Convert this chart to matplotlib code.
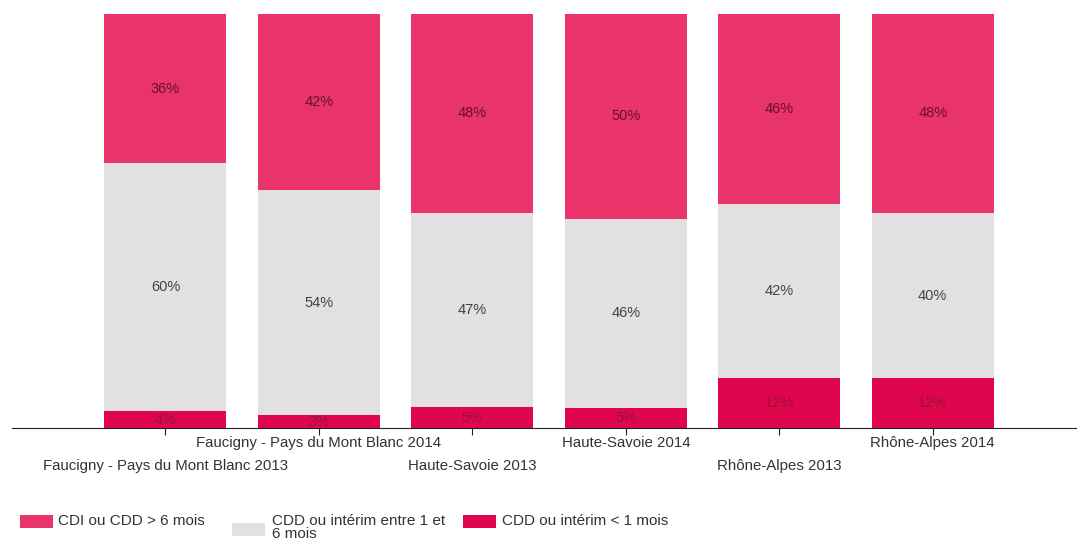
import matplotlib
matplotlib.use("Agg")
import matplotlib.pyplot as plt
from matplotlib.patches import Rectangle

plt.rcParams['font.family'] = ['Liberation Sans', 'DejaVu Sans']

categories = ["Faucigny - Pays du Mont Blanc 2013", "Faucigny - Pays du Mont Blanc 2014",
              "Haute-Savoie 2013", "Haute-Savoie 2014", "Rhône-Alpes 2013", "Rhône-Alpes 2014"]
short = [4, 3, 5, 5, 12, 12]          # CDD ou intérim < 1 mois
mid = [60, 54, 47, 46, 42, 40]        # CDD ou intérim entre 1 et 6 mois
long_ = [36, 42, 48, 50, 46, 48]      # CDI ou CDD > 6 mois
series_names = ["CDI ou CDD > 6 mois", "CDD ou intérim entre 1 et\n6 mois", "CDD ou intérim < 1 mois"]

c_long = "#E8336B"
c_mid = "#E2E0E2"
c_short = "#E0064D"

# 100% stacked: normalise each column
tot = [a + b + c for a, b, c in zip(short, mid, long_)]
s_n = [a / t * 100 for a, t in zip(short, tot)]
m_n = [b / t * 100 for b, t in zip(mid, tot)]
l_n = [c / t * 100 for c, t in zip(long_, tot)]
b3 = [a + b for a, b in zip(s_n, m_n)]

W, H = 1077, 545
fig = plt.figure(figsize=(W / 100, H / 100), dpi=100)
ax = fig.add_axes([12 / W, (H - 428) / H, (W - 12) / W, (428 - 14) / H])

x = list(range(len(categories)))
bw = 0.795
ax.bar(x, s_n, bw, color=c_short, edgecolor='none')
ax.bar(x, m_n, bw, bottom=s_n, color=c_mid, edgecolor='none')
ax.bar(x, l_n, bw, bottom=b3, color=c_long, edgecolor='none')

fs_lab = 10.5
for i in x:
    ax.text(i, s_n[i] / 2, f"{short[i]}%", ha='center', va='center', fontsize=fs_lab, color='#9a1038')
    ax.text(i, s_n[i] + m_n[i] / 2, f"{mid[i]}%", ha='center', va='center', fontsize=fs_lab, color='#444444')
    ax.text(i, b3[i] + l_n[i] / 2, f"{long_[i]}%", ha='center', va='center', fontsize=fs_lab, color='#6a1030')

ax.set_xlim(-1.0, 5.94)
ax.set_ylim(0, 100)
for s in ['top', 'right', 'left']:
    ax.spines[s].set_visible(False)
ax.spines['bottom'].set_color('#222222')
ax.set_yticks([])
ax.set_xticks(x)
ax.set_xticklabels([])
ax.tick_params(axis='x', length=5, color='#222222', direction='out')

for i, lab in enumerate(categories):
    off = -31 if i % 2 == 0 else -8
    ax.annotate(lab, (i, 0), xytext=(0, off), textcoords='offset pixels',
                ha='center', va='top', fontsize=10.8, color='#333333',
                annotation_clip=False)

# legend
leg = [(20, 515, c_long, 58, series_names[0]),
       (232, 523, c_mid, 272, series_names[1]),
       (463, 515, c_short, 502, series_names[2])]
for px, py, col, tx, lab in leg:
    fig.patches.append(Rectangle((px / W, (H - py - 13) / H), 33 / W, 13 / H,
                                 transform=fig.transFigure, color=col, ec='none'))
    fig.text(tx / W, (H - 514) / H, lab, ha='left', va='top', fontsize=11,
             color='#333333', linespacing=0.95)

fig.savefig("out.png", dpi=100)
